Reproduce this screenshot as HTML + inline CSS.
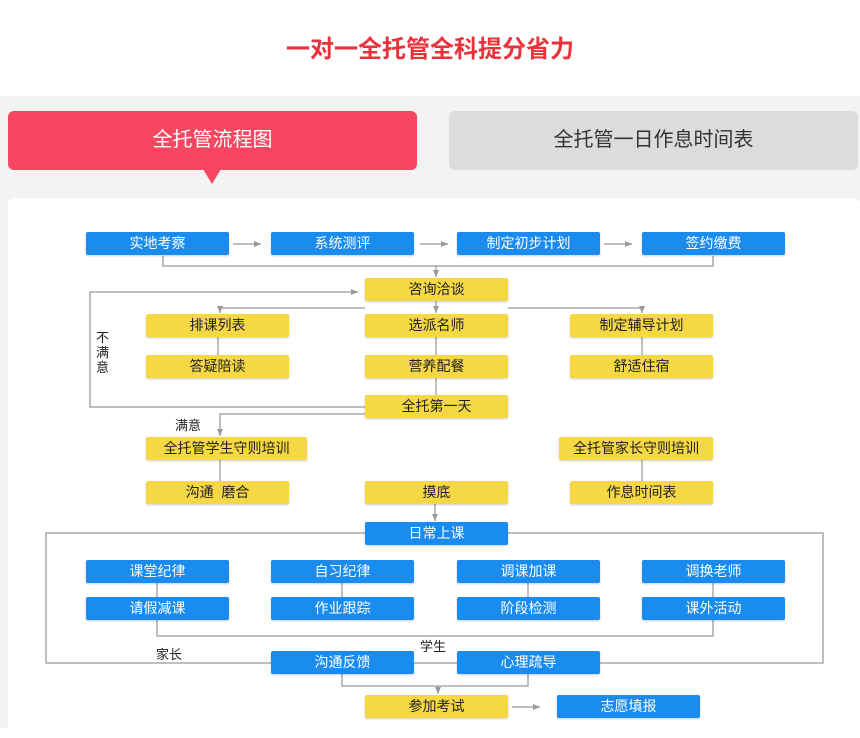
<!DOCTYPE html>
<html><head><meta charset="utf-8"><style>
body{margin:0;width:860px;height:728px;background:#fff;font-family:"Liberation Sans","Noto Sans CJK SC",sans-serif;position:relative;overflow:hidden}
.t{position:absolute;left:0;width:860px;top:29px;text-align:center;color:#e8333c;font-size:24px;font-weight:bold}
.bg{position:absolute;left:0;top:96px;width:860px;height:632px;background:#f3f3f3}
.tab{position:absolute;top:111px;height:59px;border-radius:6px;font-size:20px;line-height:59px;text-align:center}
.card{position:absolute;left:8px;top:198px;width:852px;height:540px;background:#fff;border-radius:6px}
.b{position:absolute;height:23px;line-height:23px;text-align:center;font-size:14px;border-radius:2px;box-shadow:0 1px 2px rgba(0,0,0,.2)}
.bl{background:#1a8cf0;color:#fff}.ye{background:#f5d844;color:#222}
.lb{position:absolute;font-size:13px;color:#222}
svg{position:absolute;left:0;top:0}
</style></head><body>
<div class="t">一对一全托管全科提分省力</div>
<div class="bg"></div>
<div class="tab" style="left:8px;width:409px;background:#f7465f;color:#fff">全托管流程图</div>
<div style="position:absolute;left:203px;top:169px;border-left:9px solid transparent;border-right:9px solid transparent;border-top:15px solid #f7465f"></div>
<div class="tab" style="left:449px;width:409px;background:#dcdcdc;color:#333">全托管一日作息时间表</div>
<div class="card"></div>
<svg width="860" height="728"><defs><marker id="a" markerUnits="userSpaceOnUse" markerWidth="8" markerHeight="8" refX="7" refY="4" orient="auto"><path d="M0,1L7,4L0,7z" fill="#999"/></marker></defs>
<g stroke="#aaa" stroke-width="1.5" fill="none">
<line x1="233" y1="244" x2="261" y2="244" marker-end="url(#a)"/>
<line x1="420" y1="244" x2="448" y2="244" marker-end="url(#a)"/>
<line x1="604" y1="244" x2="632" y2="244" marker-end="url(#a)"/>
<polyline points="163,256 163,266 713,266 713,256"/>
<line x1="436" y1="266" x2="436" y2="277" marker-end="url(#a)"/>
<polyline points="365,407 90,407 90,292 358,292" marker-end="url(#a)"/>
<polyline points="365,308 220,308 220,313" marker-end="url(#a)"/>
<polyline points="508,308 642,308 642,313" marker-end="url(#a)"/>
<line x1="436" y1="300" x2="436" y2="313" marker-end="url(#a)"/>
<line x1="218" y1="337" x2="218" y2="355"/><line x1="436" y1="337" x2="436" y2="355"/><line x1="642" y1="337" x2="642" y2="355"/>
<line x1="436" y1="378" x2="436" y2="395"/>
<polyline points="365,414 220,414 220,436" marker-end="url(#a)"/>
<line x1="220" y1="460" x2="220" y2="481"/><line x1="642" y1="460" x2="642" y2="481"/>
<line x1="435" y1="504" x2="435" y2="521" marker-end="url(#a)"/>
<rect x="46" y="533" width="777" height="130"/>
<line x1="157" y1="583" x2="157" y2="597"/><line x1="342" y1="583" x2="342" y2="597"/><line x1="528" y1="583" x2="528" y2="597"/><line x1="713" y1="583" x2="713" y2="597"/>
<polyline points="157,620 157,636 713,636 713,620"/>
<polyline points="342,674 342,686 528,686 528,674"/>
<line x1="438" y1="686" x2="438" y2="694" marker-end="url(#a)"/>
<line x1="512" y1="707" x2="540" y2="707" marker-end="url(#a)"/>
</g></svg>
<div class="b bl" style="left:86px;top:232px;width:143px">实地考察</div>
<div class="b bl" style="left:271px;top:232px;width:143px">系统测评</div>
<div class="b bl" style="left:457px;top:232px;width:143px">制定初步计划</div>
<div class="b bl" style="left:642px;top:232px;width:143px">签约缴费</div>
<div class="b ye" style="left:365px;top:278px;width:143px">咨询洽谈</div>
<div class="b ye" style="left:146px;top:314px;width:143px">排课列表</div>
<div class="b ye" style="left:365px;top:314px;width:143px">选派名师</div>
<div class="b ye" style="left:570px;top:314px;width:143px">制定辅导计划</div>
<div class="b ye" style="left:146px;top:355px;width:143px">答疑陪读</div>
<div class="b ye" style="left:365px;top:355px;width:143px">营养配餐</div>
<div class="b ye" style="left:570px;top:355px;width:143px">舒适住宿</div>
<div class="b ye" style="left:365px;top:395px;width:143px">全托第一天</div>
<div class="b ye" style="left:146px;top:437px;width:161px">全托管学生守则培训</div>
<div class="b ye" style="left:559px;top:437px;width:154px">全托管家长守则培训</div>
<div class="b ye" style="left:146px;top:481px;width:143px">沟通&nbsp; 磨合</div>
<div class="b ye" style="left:365px;top:481px;width:143px">摸底</div>
<div class="b ye" style="left:570px;top:481px;width:143px">作息时间表</div>
<div class="b bl" style="left:365px;top:522px;width:143px">日常上课</div>
<div class="b bl" style="left:86px;top:560px;width:143px">课堂纪律</div>
<div class="b bl" style="left:271px;top:560px;width:143px">自习纪律</div>
<div class="b bl" style="left:457px;top:560px;width:143px">调课加课</div>
<div class="b bl" style="left:642px;top:560px;width:143px">调换老师</div>
<div class="b bl" style="left:86px;top:597px;width:143px">请假减课</div>
<div class="b bl" style="left:271px;top:597px;width:143px">作业跟踪</div>
<div class="b bl" style="left:457px;top:597px;width:143px">阶段检测</div>
<div class="b bl" style="left:642px;top:597px;width:143px">课外活动</div>
<div class="b bl" style="left:271px;top:651px;width:143px">沟通反馈</div>
<div class="b bl" style="left:457px;top:651px;width:143px">心理疏导</div>
<div class="b ye" style="left:365px;top:695px;width:143px">参加考试</div>
<div class="b bl" style="left:557px;top:695px;width:143px">志愿填报</div>
<div class="lb" style="left:96px;top:330px;width:14px;line-height:15px">不满意</div>
<div class="lb" style="left:175px;top:415px">满意</div>
<div class="lb" style="left:156px;top:644px">家长</div>
<div class="lb" style="left:420px;top:636px">学生</div>
</body></html>
